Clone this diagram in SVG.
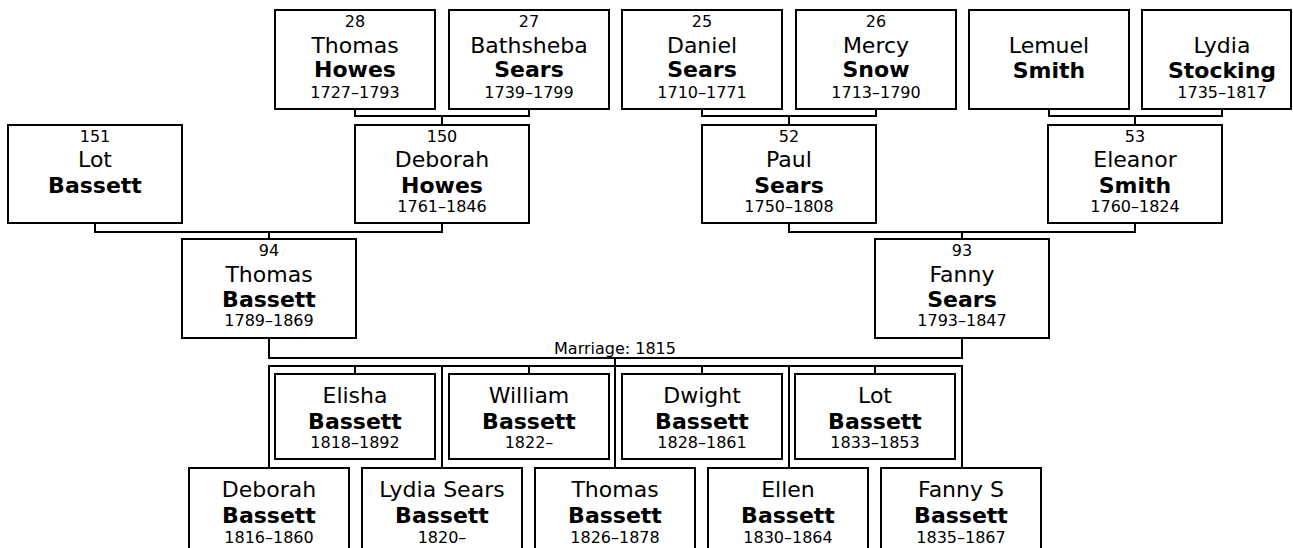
<svg xmlns="http://www.w3.org/2000/svg" width="1293" height="548" viewBox="0 0 1293 548">
<style>
.box{fill:#fff;stroke:#000;stroke-width:2}
.conn{fill:none;stroke:#000;stroke-width:2}
text{font-family:"DejaVu Sans",Verdana,sans-serif;text-anchor:middle;fill:#000}
.n{font-size:16px}
.g{font-size:22px}
.s{font-size:22px;font-weight:bold}
.d{font-size:16px}
</style>
<rect width="1293" height="548" fill="#fff"/>
<g id="connectors">
<path class="conn" d="M355 109V116H529V109M442 116V125"/>
<path class="conn" d="M702 109V116H876V109M789 116V125"/>
<path class="conn" d="M1049 109V116H1222V109M1135 116V125"/>
<path class="conn" d="M95 223V232H442V223M269 232V239"/>
<path class="conn" d="M789 223V232H1135V223M962 232V239"/>
<path class="conn" d="M269 338V358H962V338M615 358V468"/>
<path class="conn" d="M269 468V366H962V468M442 366V468M789 366V468"/>
<path class="conn" d="M355 366V374M529 366V374M702 366V374M875 366V374"/>
<text class="n" x="615" y="354">Marriage: 1815</text>
</g>
<g id="p28"><rect class="box" x="275" y="10" width="160" height="99"/><text class="n" x="355" y="27">28</text><text class="g" x="355" y="53">Thomas</text><text class="s" x="355" y="77">Howes</text><text class="d" x="355" y="98">1727–1793</text></g>
<g id="p27"><rect class="box" x="449" y="10" width="160" height="99"/><text class="n" x="529" y="27">27</text><text class="g" x="529" y="53">Bathsheba</text><text class="s" x="529" y="77">Sears</text><text class="d" x="529" y="98">1739–1799</text></g>
<g id="p25"><rect class="box" x="622" y="10" width="160" height="99"/><text class="n" x="702" y="27">25</text><text class="g" x="702" y="53">Daniel</text><text class="s" x="702" y="77">Sears</text><text class="d" x="702" y="98">1710–1771</text></g>
<g id="p26"><rect class="box" x="796" y="10" width="160" height="99"/><text class="n" x="876" y="27">26</text><text class="g" x="876" y="53">Mercy</text><text class="s" x="876" y="77">Snow</text><text class="d" x="876" y="98">1713–1790</text></g>
<g id="lemuel"><rect class="box" x="969" y="10" width="160" height="99"/><text class="g" x="1049" y="53">Lemuel</text><text class="s" x="1049" y="78">Smith</text></g>
<g id="lydia"><rect class="box" x="1142" y="10" width="149" height="99"/><text class="g" x="1222" y="53">Lydia</text><text class="s" x="1222" y="78">Stocking</text><text class="d" x="1222" y="98">1735–1817</text></g>
<g id="p151"><rect class="box" x="8" y="125" width="174" height="98"/><text class="n" x="95" y="142">151</text><text class="g" x="95" y="167">Lot</text><text class="s" x="95" y="193">Bassett</text></g>
<g id="p150"><rect class="box" x="355" y="125" width="174" height="98"/><text class="n" x="442" y="142">150</text><text class="g" x="442" y="167">Deborah</text><text class="s" x="442" y="193">Howes</text><text class="d" x="442" y="212">1761–1846</text></g>
<g id="p52"><rect class="box" x="702" y="125" width="174" height="98"/><text class="n" x="789" y="142">52</text><text class="g" x="789" y="167">Paul</text><text class="s" x="789" y="193">Sears</text><text class="d" x="789" y="212">1750–1808</text></g>
<g id="p53"><rect class="box" x="1048" y="125" width="174" height="98"/><text class="n" x="1135" y="142">53</text><text class="g" x="1135" y="167">Eleanor</text><text class="s" x="1135" y="193">Smith</text><text class="d" x="1135" y="212">1760–1824</text></g>
<g id="p94"><rect class="box" x="182" y="239" width="174" height="99"/><text class="n" x="269" y="256">94</text><text class="g" x="269" y="282">Thomas</text><text class="s" x="269" y="307">Bassett</text><text class="d" x="269" y="326">1789–1869</text></g>
<g id="p93"><rect class="box" x="875" y="239" width="174" height="99"/><text class="n" x="962" y="256">93</text><text class="g" x="962" y="282">Fanny</text><text class="s" x="962" y="307">Sears</text><text class="d" x="962" y="326">1793–1847</text></g>
<g id="elisha"><rect class="box" x="275" y="374" width="160" height="85"/><text class="g" x="355" y="403">Elisha</text><text class="s" x="355" y="429">Bassett</text><text class="d" x="355" y="448">1818–1892</text></g>
<g id="william"><rect class="box" x="449" y="374" width="160" height="85"/><text class="g" x="529" y="403">William</text><text class="s" x="529" y="429">Bassett</text><text class="d" x="529" y="448">1822–</text></g>
<g id="dwight"><rect class="box" x="622" y="374" width="160" height="85"/><text class="g" x="702" y="403">Dwight</text><text class="s" x="702" y="429">Bassett</text><text class="d" x="702" y="448">1828–1861</text></g>
<g id="lot"><rect class="box" x="795" y="374" width="160" height="85"/><text class="g" x="875" y="403">Lot</text><text class="s" x="875" y="429">Bassett</text><text class="d" x="875" y="448">1833–1853</text></g>
<g id="deborah"><rect class="box" x="189" y="468" width="160" height="110"/><text class="g" x="269" y="497">Deborah</text><text class="s" x="269" y="523">Bassett</text><text class="d" x="269" y="543">1816–1860</text></g>
<g id="lydiasears"><rect class="box" x="362" y="468" width="160" height="110"/><text class="g" x="442" y="497">Lydia Sears</text><text class="s" x="442" y="523">Bassett</text><text class="d" x="442" y="543">1820–</text></g>
<g id="thomas"><rect class="box" x="535" y="468" width="160" height="110"/><text class="g" x="615" y="497">Thomas</text><text class="s" x="615" y="523">Bassett</text><text class="d" x="615" y="543">1826–1878</text></g>
<g id="ellen"><rect class="box" x="708" y="468" width="160" height="110"/><text class="g" x="788" y="497">Ellen</text><text class="s" x="788" y="523">Bassett</text><text class="d" x="788" y="543">1830–1864</text></g>
<g id="fannys"><rect class="box" x="881" y="468" width="160" height="110"/><text class="g" x="961" y="497">Fanny S</text><text class="s" x="961" y="523">Bassett</text><text class="d" x="961" y="543">1835–1867</text></g>
</svg>
